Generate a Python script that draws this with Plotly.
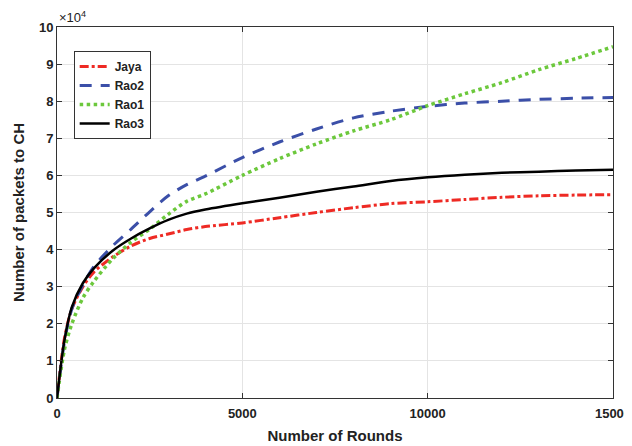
import plotly.graph_objects as go

rounds = [0, 200, 400, 700, 1000, 1500, 2000, 2500, 3000, 3500, 4000, 5000, 6000,
          7000, 8000, 9000, 10000, 11000, 12000, 13000, 14000, 15000]

# values in units of 10^4 packets
jaya = [0, 1.6, 2.4, 3.0, 3.4, 3.8, 4.1, 4.3, 4.42, 4.54, 4.62, 4.72, 4.86,
        5.0, 5.13, 5.24, 5.29, 5.35, 5.41, 5.45, 5.47, 5.48]
rao2 = [0, 1.5, 2.4, 3.05, 3.55, 4.1, 4.55, 5.02, 5.45, 5.75, 5.98, 6.48, 6.9,
        7.25, 7.55, 7.73, 7.86, 7.95, 8.0, 8.05, 8.08, 8.1]
rao1 = [0, 1.3, 2.0, 2.7, 3.15, 3.75, 4.2, 4.55, 4.95, 5.3, 5.5, 6.0, 6.45,
        6.85, 7.2, 7.5, 7.88, 8.2, 8.5, 8.85, 9.15, 9.47]
rao3 = [0, 1.55, 2.45, 3.1, 3.5, 3.97, 4.3, 4.57, 4.8, 4.97, 5.08, 5.25, 5.4,
        5.56, 5.7, 5.85, 5.95, 6.02, 6.07, 6.1, 6.13, 6.15]

y_ticks = [0, 1, 2, 3, 4, 5, 6, 7, 8, 9, 10]
x_ticks = [0, 5000, 10000, 15000]

series = [
    ("Jaya", jaya, "#ee2a24", "dashdot", 3),
    ("Rao2", rao2, "#3b4fa8", "12px,9px", 3),
    ("Rao1", rao1, "#6cc83c", "dot", 3.5),
    ("Rao3", rao3, "#000000", "solid", 2.5),
]

fig = go.Figure()
for name, vals, color, dash, w in series:
    fig.add_trace(go.Scatter(
        x=rounds, y=vals, name=name, mode="lines",
        line=dict(color=color, dash=dash, width=w, shape="spline", smoothing=0.8),
    ))

font_family = "Liberation Sans, Arial, sans-serif"
fig.update_layout(
    width=632, height=438,
    margin=dict(l=49, r=27, t=19, b=48),
    paper_bgcolor="white", plot_bgcolor="white",
    font=dict(family=font_family, size=13, color="#222"),
    showlegend=True,
    legend=dict(
        x=0.03, y=0.935, xanchor="left", yanchor="top",
        bgcolor="white", bordercolor="#333", borderwidth=1,
        font=dict(size=12, color="#222", family=font_family, weight="bold"),
        tracegroupgap=0, itemwidth=30,
    ),
    xaxis=dict(
        range=[0, 15000], tickvals=x_ticks, ticktext=[str(v) for v in x_ticks],
        showgrid=True, gridcolor="#e4e4e4", gridwidth=1,
        showline=True, linecolor="#333", linewidth=1, mirror="ticks",
        ticks="inside", ticklen=5, tickcolor="#333",
        tickfont=dict(size=13, weight="bold"), ticklabelstandoff=3,
        zeroline=False, automargin=False,
        title=dict(text="Number of Rounds", font=dict(size=15, weight="bold"), standoff=10),
    ),
    yaxis=dict(
        range=[0, 10], tickvals=y_ticks, ticktext=[str(v) for v in y_ticks],
        showgrid=True, gridcolor="#e4e4e4", gridwidth=1,
        showline=True, linecolor="#333", linewidth=1, mirror="ticks",
        ticks="inside", ticklen=5, tickcolor="#333",
        tickfont=dict(size=13, weight="bold"),
        zeroline=False, automargin=False,
        title=dict(text="Number of packets to CH", font=dict(size=15, weight="bold"), standoff=10),
    ),
    annotations=[dict(
        text="\u00d710<sup>4</sup>", xref="paper", yref="paper", x=0, y=1,
        xanchor="left", yanchor="bottom", showarrow=False,
        font=dict(size=13, color="#222", family=font_family),
    )],
)

fig.write_html("out.html")
